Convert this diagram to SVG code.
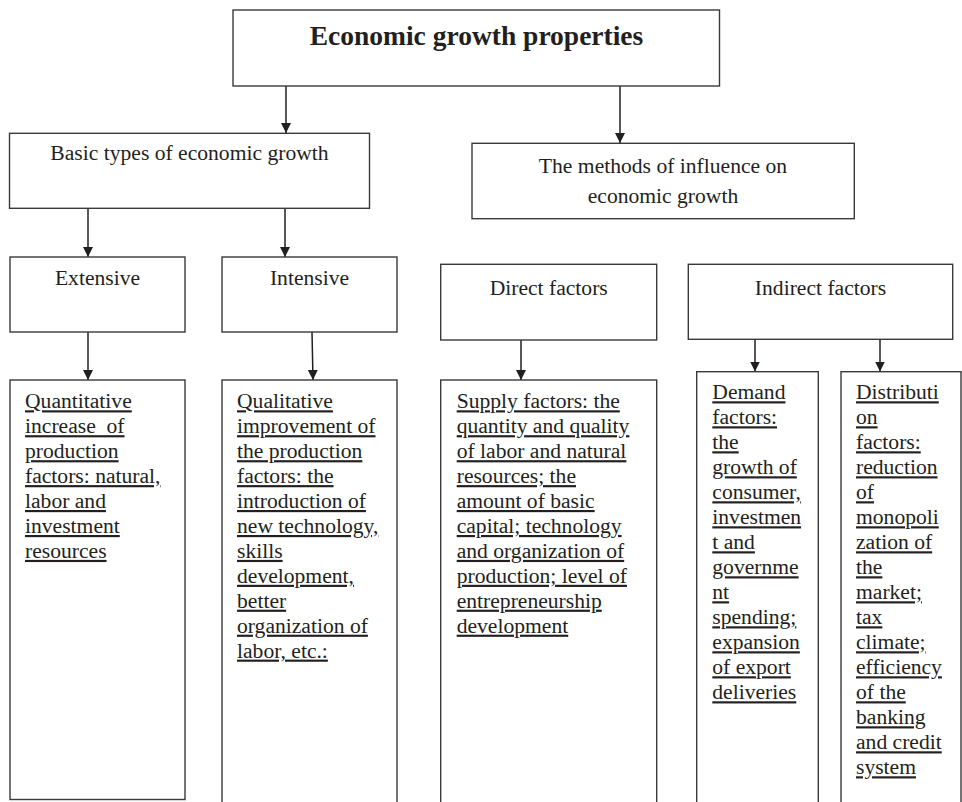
<svg xmlns="http://www.w3.org/2000/svg" width="962" height="802" viewBox="0 0 962 802">
  <defs>
    <marker id="head" markerUnits="userSpaceOnUse" markerWidth="11" markerHeight="11" refX="10" refY="5" orient="auto" viewBox="0 0 11 11">
      <path d="M0,0 L10,5 L0,10 Z" fill="#231f20"/>
    </marker>
  </defs>
  <style>
    .box { fill: #ffffff; stroke: #3a3a3a; stroke-width: 1.4; }
    .lbl { font-family: "Liberation Serif", "Times New Roman", serif; font-size: 21.6px; fill: #231f20; }
    .ttl { font-family: "Liberation Serif", "Times New Roman", serif; font-size: 27.5px; font-weight: bold; fill: #231f20; }
    .mid { text-anchor: middle; }
    .ul { text-decoration: underline; }
    .con { stroke: #231f20; stroke-width: 1.5; fill: none; marker-end: url(#head); }
  </style>
  <rect width="962" height="802" fill="#ffffff"/>

  <!-- connectors -->
  <g id="connectors">
    <line class="con" x1="286" y1="86" x2="286" y2="133"/>
    <line class="con" x1="620" y1="86" x2="620" y2="143"/>
    <line class="con" x1="88" y1="208" x2="88" y2="257"/>
    <line class="con" x1="285" y1="208" x2="285" y2="257"/>
    <line class="con" x1="88" y1="332" x2="88" y2="380"/>
    <line class="con" x1="312" y1="332" x2="313" y2="380"/>
    <line class="con" x1="521" y1="340" x2="521" y2="380"/>
    <line class="con" x1="755" y1="339" x2="755" y2="371.5"/>
    <line class="con" x1="880" y1="339" x2="880" y2="371.5"/>
  </g>

  <!-- root -->
  <g id="root">
    <rect class="box" x="233" y="10" width="486.5" height="76"/>
    <text class="ttl mid" x="476.5" y="45">Economic growth properties</text>
  </g>

  <!-- second level -->
  <g id="basic-types">
    <rect class="box" x="9.5" y="133.3" width="360" height="75"/>
    <text class="lbl mid" x="189.5" y="160">Basic types of economic growth</text>
  </g>
  <g id="methods">
    <rect class="box" x="472" y="143.3" width="382.3" height="75.4"/>
    <text class="lbl mid" x="663" y="172.7">The methods of influence on</text>
    <text class="lbl mid" x="663" y="202.7">economic growth</text>
  </g>

  <!-- third level -->
  <g id="extensive">
    <rect class="box" x="10" y="257" width="175" height="75"/>
    <text class="lbl mid" x="97.5" y="285">Extensive</text>
  </g>
  <g id="intensive">
    <rect class="box" x="222" y="257" width="175" height="75"/>
    <text class="lbl mid" x="309.5" y="285">Intensive</text>
  </g>
  <g id="direct">
    <rect class="box" x="440.7" y="264.3" width="216" height="75.7"/>
    <text class="lbl mid" x="548.7" y="295">Direct factors</text>
  </g>
  <g id="indirect">
    <rect class="box" x="688.3" y="264.3" width="264.4" height="75"/>
    <text class="lbl mid" x="820.5" y="295">Indirect factors</text>
  </g>

  <!-- detail boxes: one underlined text line per row -->
  <g id="quantitative">
    <rect class="box" x="10" y="380" width="175" height="419.5"/>
    <text class="lbl ul" x="25" y="408.3">Quantitative</text>
    <text class="lbl ul" x="25" y="433.2">increase&#160; of</text>
    <text class="lbl ul" x="25" y="458.2">production</text>
    <text class="lbl ul" x="25" y="483.1">factors: natural,</text>
    <text class="lbl ul" x="25" y="508">labor and</text>
    <text class="lbl ul" x="25" y="533">investment</text>
    <text class="lbl ul" x="25" y="557.9">resources</text>
  </g>
  <g id="qualitative">
    <rect class="box" x="222" y="380" width="175" height="440"/>
    <text class="lbl ul" x="237" y="408.3">Qualitative</text>
    <text class="lbl ul" x="237" y="433.2">improvement of</text>
    <text class="lbl ul" x="237" y="458.2">the production</text>
    <text class="lbl ul" x="237" y="483.1">factors: the</text>
    <text class="lbl ul" x="237" y="508">introduction of</text>
    <text class="lbl ul" x="237" y="533">new technology,</text>
    <text class="lbl ul" x="237" y="557.9">skills</text>
    <text class="lbl ul" x="237" y="582.8">development,</text>
    <text class="lbl ul" x="237" y="607.7">better</text>
    <text class="lbl ul" x="237" y="632.7">organization of</text>
    <text class="lbl ul" x="237" y="657.6">labor, etc.:</text>
  </g>
  <g id="supply">
    <rect class="box" x="440.7" y="380" width="216" height="440"/>
    <text class="lbl ul" x="456.7" y="408.3">Supply factors: the</text>
    <text class="lbl ul" x="456.7" y="433.2">quantity and quality</text>
    <text class="lbl ul" x="456.7" y="458.2">of labor and natural</text>
    <text class="lbl ul" x="456.7" y="483.1">resources; the</text>
    <text class="lbl ul" x="456.7" y="508">amount of basic</text>
    <text class="lbl ul" x="456.7" y="533">capital; technology</text>
    <text class="lbl ul" x="456.7" y="557.9">and organization of</text>
    <text class="lbl ul" x="456.7" y="582.8">production; level of</text>
    <text class="lbl ul" x="456.7" y="607.7">entrepreneurship</text>
    <text class="lbl ul" x="456.7" y="632.7">development</text>
  </g>
  <g id="demand">
    <rect class="box" x="696.7" y="371.7" width="121.6" height="450"/>
    <text class="lbl ul" x="712.3" y="399.3">Demand</text>
    <text class="lbl ul" x="712.3" y="424.3">factors:</text>
    <text class="lbl ul" x="712.3" y="449.3">the</text>
    <text class="lbl ul" x="712.3" y="474.3">growth of</text>
    <text class="lbl ul" x="712.3" y="499.3">consumer,</text>
    <text class="lbl ul" x="712.3" y="524.3">investmen</text>
    <text class="lbl ul" x="712.3" y="549.3">t and</text>
    <text class="lbl ul" x="712.3" y="574.3">governme</text>
    <text class="lbl ul" x="712.3" y="599.3">nt</text>
    <text class="lbl ul" x="712.3" y="624.3">spending;</text>
    <text class="lbl ul" x="712.3" y="649.3">expansion</text>
    <text class="lbl ul" x="712.3" y="674.3">of export</text>
    <text class="lbl ul" x="712.3" y="699.3">deliveries</text>
  </g>
  <g id="distribution">
    <rect class="box" x="841" y="371.7" width="120" height="450"/>
    <text class="lbl ul" x="856" y="399.3">Distributi</text>
    <text class="lbl ul" x="856" y="424.3">on</text>
    <text class="lbl ul" x="856" y="449.3">factors:</text>
    <text class="lbl ul" x="856" y="474.3">reduction</text>
    <text class="lbl ul" x="856" y="499.3">of</text>
    <text class="lbl ul" x="856" y="524.3">monopoli</text>
    <text class="lbl ul" x="856" y="549.3">zation of</text>
    <text class="lbl ul" x="856" y="574.3">the</text>
    <text class="lbl ul" x="856" y="599.3">market;</text>
    <text class="lbl ul" x="856" y="624.3">tax</text>
    <text class="lbl ul" x="856" y="649.3">climate;</text>
    <text class="lbl ul" x="856" y="674.3">efficiency</text>
    <text class="lbl ul" x="856" y="699.3">of the</text>
    <text class="lbl ul" x="856" y="724.3">banking</text>
    <text class="lbl ul" x="856" y="749.3">and credit</text>
    <text class="lbl ul" x="856" y="774.3">system</text>
  </g>
</svg>
